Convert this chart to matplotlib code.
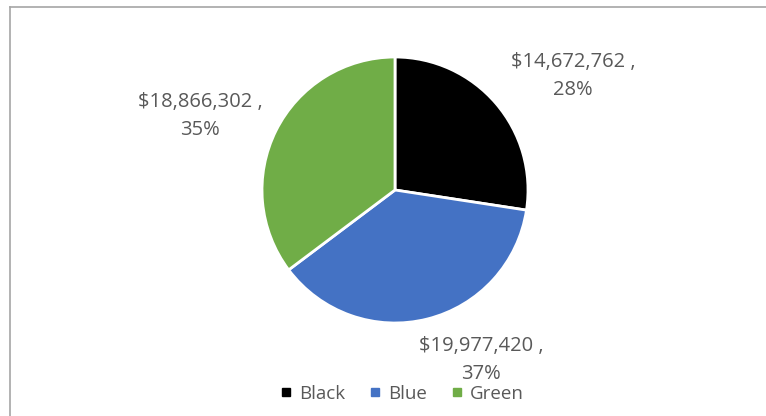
import matplotlib.pyplot as plt
from matplotlib.lines import Line2D

categories = ['Black', 'Blue', 'Green']
values = [14672762, 19977420, 18866302]
percents = [28, 37, 35]
colors = ['#000000', '#4472C4', '#70AD47']

plt.rcParams['font.family'] = ['Open Sans', 'DejaVu Sans']
text_color = '#595959'

fig = plt.figure(figsize=(7.66, 4.16), dpi=100)
ax = fig.add_axes([0, 0, 1, 1])

wedges, _ = ax.pie(values, colors=colors, startangle=90, counterclock=False,
                   center=(395, 226), radius=133,
                   wedgeprops=dict(edgecolor='white', linewidth=2))
ax.set_xlim(0, 766)
ax.set_ylim(0, 416)
ax.set_aspect('equal')
ax.axis('off')

# label positions in pixel units (x, y from top)
label_pos = [(573, 76), (481, 360), (200, 116)]
for v, p, (x, y) in zip(values, percents, label_pos):
    ax.text(x, 416 - y, f'${v:,} ,\n{p}%', ha='center', va='center',
            fontsize=14.5, color=text_color, linespacing=1.55)

handles = [Line2D([], [], marker='s', linestyle='none', markersize=6,
                  markerfacecolor=c, markeredgecolor=c) for c in colors]
ax.legend(handles, categories, loc='center', bbox_to_anchor=(402 / 766, 1 - 394 / 416),
          ncol=3, frameon=False, fontsize=13.5, labelcolor=text_color,
          handlelength=0.6, handletextpad=0.4, columnspacing=1.3)

# chart frame (top and left edges visible)
fig.add_artist(Line2D([10 / 766, 1], [1 - 7 / 416, 1 - 7 / 416],
                      color='#A6A6A6', linewidth=1.2, transform=fig.transFigure))
fig.add_artist(Line2D([10 / 766, 10 / 766], [0, 1 - 7 / 416],
                      color='#A6A6A6', linewidth=1.2, transform=fig.transFigure))

fig.savefig('out.png', dpi=100, facecolor='white')
